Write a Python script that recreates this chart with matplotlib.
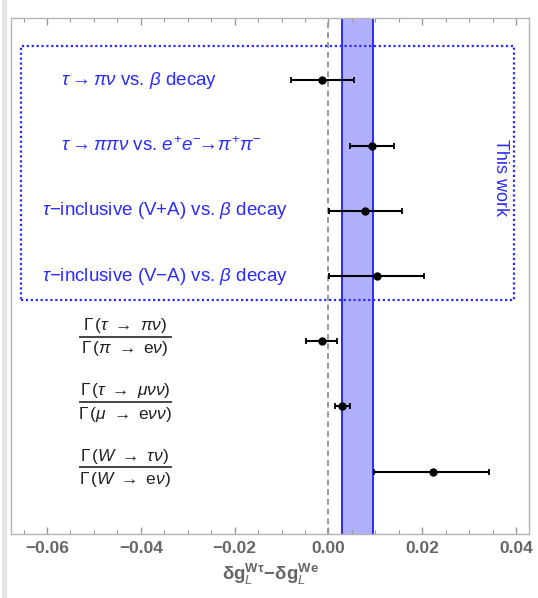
import matplotlib
matplotlib.use("Agg")
import matplotlib.pyplot as plt
from matplotlib.ticker import MultipleLocator, FuncFormatter

plt.rcParams['font.family'] = ['Liberation Sans', 'DejaVu Sans']
plt.rcParams['mathtext.fontset'] = 'custom'
plt.rcParams['mathtext.rm'] = 'Liberation Sans'
plt.rcParams['mathtext.it'] = 'Liberation Sans:italic'
plt.rcParams['mathtext.bf'] = 'Liberation Sans:bold'
plt.rcParams['mathtext.fallback'] = 'stixsans'

# ---- data ----
blue_labels = [
    r'$\tau \rightarrow \pi\nu$ vs. $\beta$ decay',
    r'$\tau \rightarrow \pi\pi\nu$ vs. $e^{+}e^{-}\!\!\rightarrow\!\pi^{+}\pi^{-}$',
    r'$\tau$−inclusive (V+A) vs. $\beta$ decay',
    r'$\tau$−inclusive (V−A) vs. $\beta$ decay',
]
frac_num = [
    r'$\Gamma\,(\tau\ \rightarrow\ \pi\nu)$',
    r'$\Gamma\,(\tau\ \rightarrow\ \mu\nu\nu)$',
    r'$\Gamma\,(W\ \rightarrow\ \tau\nu)$',
]
frac_den = [
    r'$\Gamma\,(\pi\ \rightarrow\ \mathrm{e}\nu)$',
    r'$\Gamma\,(\mu\ \rightarrow\ \mathrm{e}\nu\nu)$',
    r'$\Gamma\,(W\ \rightarrow\ \mathrm{e}\nu)$',
]
centers = [-0.0013, 0.0093, 0.0079, 0.0103, -0.0013, 0.0028, 0.0222]
err_low = [-0.0080, 0.0047, 0.0002, 0.0002, -0.0048, 0.0014, 0.0098]
err_high = [0.0054, 0.0139, 0.0156, 0.0203, 0.0019, 0.0046, 0.0343]
band_low = 0.0030
band_high = 0.0096
xticks = [-0.06, -0.04, -0.02, 0.00, 0.02, 0.04]

BLUE = '#2a2aff'
GRAY = '#666666'

fig = plt.figure(figsize=(5.38, 5.98), dpi=100)
ax = fig.add_axes([11/538, 64/598, 518/538, 516/598])

n = len(centers)
ys = [n - i for i in range(n)]

ax.set_xlim(-0.06768, 0.04277)
ax.set_ylim(0.043, n + 0.957)

# band
ax.axvspan(band_low, band_high, color='#b0b0ff', lw=0, zorder=1)
ax.axvline(band_low, color=BLUE, lw=1.4, zorder=2)
ax.axvline(band_high, color=BLUE, lw=1.4, zorder=2)
# zero line
ax.axvline(0.0, color='#999999', lw=1.4, ls=(0, (3, 2)), zorder=2)

# error bars
xerr = [[c - l for c, l in zip(centers, err_low)],
        [h - c for c, h in zip(centers, err_high)]]
ax.errorbar(centers, ys, xerr=xerr, fmt='o', color='black', ms=5,
            elinewidth=1.5, capsize=2.5, capthick=1.3, zorder=5)

# blue dotted box
ax.plot([-0.0655, 0.0396, 0.0396, -0.0655, -0.0655],
        [3.63, 3.63, 7.52, 7.52, 3.63], color=BLUE, lw=1.6,
        ls=(0, (1, 1.2)), zorder=3)
ax.text(0.0366, 5.51, 'This work', color=BLUE, fontsize=13,
        rotation=-90, ha='center', va='center')

# blue labels
label_x = [-0.0404, -0.0357, -0.0348, -0.0348]
for lx, y, s in zip(label_x, ys[:4], blue_labels):
    ax.text(lx, y, s, color=BLUE, fontsize=13.5, ha='center', va='center')

# fraction labels
fx = -0.0434
for y, nu, de in zip(ys[4:], frac_num, frac_den):
    yl = y + 0.07
    ax.plot([-0.0530, -0.0335], [yl, yl], color='#444444', lw=1.4)
    ax.annotate(nu, (fx, yl), xytext=(0, 1), textcoords='offset points',
                ha='center', va='bottom', fontsize=12.5, color='#222222')
    ax.annotate(de, (fx, yl), xytext=(0, -2), textcoords='offset points',
                ha='center', va='top', fontsize=12.5, color='#222222')

# axes styling
for sp in ax.spines.values():
    sp.set_color('#b4b4b4')
    sp.set_linewidth(1.0)
ax.set_yticks([])
ax.set_xticks(xticks)
ax.xaxis.set_minor_locator(MultipleLocator(0.005))
ax.xaxis.set_major_formatter(FuncFormatter(lambda v, p: f'{v:.2f}'.replace('-', '−')))
ax.tick_params(axis='x', which='both', direction='in', top=True, bottom=True,
               color='#999999', labelcolor=GRAY, labelsize=12.5, pad=5)
ax.tick_params(axis='x', which='major', length=5, width=1.0)
ax.tick_params(axis='x', which='minor', length=3, width=0.8)
for lab in ax.get_xticklabels():
    lab.set_fontweight('bold')
ax.set_xlabel(r'$\mathbf{\delta g}_{L}^{\mathbf{W\tau}}\mathbf{-\delta g}_{L}^{\mathbf{We}}$',
              color=GRAY, fontsize=13.5, labelpad=4)

# light gray bar on far left
fig.add_artist(plt.Rectangle((2/538, 0), 5/538, 1, transform=fig.transFigure,
                             color='#e6e6e6', lw=0))

fig.savefig('out.png', dpi=100)
